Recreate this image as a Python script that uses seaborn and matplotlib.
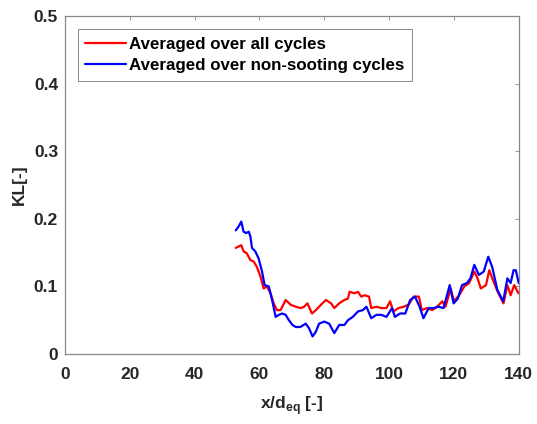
import numpy as np
import pandas as pd
import seaborn as sns
import matplotlib
matplotlib.use("Agg")
import matplotlib.pyplot as plt

x_all = [52.7, 53.5, 54.4, 55.1, 56.1, 57.2, 58.2, 59.2, 60.3, 61.3, 62.3, 63.4, 64.4, 65.4, 66.5, 68.1,
         69.6, 71.2, 72.7, 73.8, 74.8, 76.2, 77.4, 79.0, 80.5, 82.1, 83.1, 84.6, 86.2, 87.3, 87.8, 89.3,
         90.4, 91.4, 92.4, 93.8, 94.5, 96.1, 97.6, 99.2, 100.3, 101.3, 102.9, 104.5, 106.0, 107.6, 109.2,
         110.1, 111.7, 113.3, 114.8, 116.4, 117.4, 119.0, 120.0, 121.6, 123.2, 124.7, 126.3, 127.3, 128.3,
         129.9, 130.9, 132.0, 133.5, 135.3, 136.5, 137.5, 138.6, 139.9]
kl_all = [0.157, 0.159, 0.161, 0.152, 0.149, 0.139, 0.137, 0.129, 0.115, 0.097, 0.100, 0.090, 0.075, 0.065,
          0.065, 0.080, 0.073, 0.070, 0.068, 0.070, 0.075, 0.060, 0.065, 0.073, 0.080, 0.075, 0.068, 0.075,
          0.080, 0.082, 0.092, 0.090, 0.092, 0.085, 0.087, 0.085, 0.068, 0.070, 0.068, 0.068, 0.078, 0.063,
          0.068, 0.070, 0.073, 0.085, 0.085, 0.065, 0.068, 0.065, 0.070, 0.078, 0.070, 0.097, 0.078, 0.087,
          0.100, 0.105, 0.122, 0.112, 0.097, 0.102, 0.124, 0.110, 0.092, 0.075, 0.102, 0.087, 0.102, 0.090]

x_ns = [52.7, 53.6, 54.4, 55.1, 55.9, 56.7, 57.2, 57.7, 58.7, 59.7, 60.8, 61.6, 62.9, 63.9, 65.0, 66.0,
        67.0, 68.1, 69.1, 70.2, 71.2, 72.6, 74.3, 75.3, 76.4, 77.4, 78.4, 80.0, 81.5, 83.1, 84.6, 86.2,
        87.3, 88.8, 90.4, 91.9, 93.0, 94.5, 96.1, 97.6, 99.2, 100.9, 101.8, 103.4, 105.0, 106.5, 108.0,
        109.4, 110.6, 112.2, 113.7, 115.2, 116.8, 118.7, 119.9, 121.2, 122.5, 124.0, 125.1, 126.3, 127.7,
        129.2, 130.6, 131.8, 133.4, 135.2, 136.5, 137.5, 138.4, 139.1, 140.0]
kl_ns = [0.183, 0.189, 0.196, 0.181, 0.179, 0.181, 0.174, 0.157, 0.152, 0.142, 0.122, 0.102, 0.100, 0.080,
         0.055, 0.058, 0.060, 0.058, 0.050, 0.043, 0.040, 0.040, 0.045, 0.038, 0.026, 0.033, 0.045, 0.048,
         0.045, 0.031, 0.043, 0.043, 0.050, 0.055, 0.063, 0.065, 0.070, 0.053, 0.058, 0.058, 0.055, 0.068,
         0.055, 0.060, 0.060, 0.080, 0.085, 0.070, 0.053, 0.068, 0.068, 0.070, 0.068, 0.102, 0.075, 0.082,
         0.102, 0.105, 0.112, 0.132, 0.117, 0.122, 0.144, 0.129, 0.095, 0.078, 0.112, 0.105, 0.124, 0.124, 0.105]

labels = ["Averaged over all cycles", "Averaged over non-sooting cycles"]
colors = ["#ff0000", "#0000ff"]
xticks = [0, 20, 40, 60, 80, 100, 120, 140]
yticks = [0, 0.1, 0.2, 0.3, 0.4, 0.5]

sns.set_style("white")
plt.rcParams['font.family'] = ['Liberation Sans', 'DejaVu Sans']
plt.rcParams['mathtext.fontset'] = 'custom'
plt.rcParams['mathtext.bf'] = 'Liberation Sans:bold'
plt.rcParams['mathtext.rm'] = 'Liberation Sans'

df = pd.concat([
    pd.DataFrame({"x": x_all, "KL": kl_all, "series": labels[0]}),
    pd.DataFrame({"x": x_ns, "KL": kl_ns, "series": labels[1]}),
])

fig = plt.figure(figsize=(5.37, 4.24), dpi=100)
ax = fig.add_axes([0.121, 0.165, 0.845, 0.797])
sns.lineplot(data=df, x="x", y="KL", hue="series", palette=dict(zip(labels, colors)),
             linewidth=1.6, ax=ax, sort=False, estimator=None)

ax.set_xlim(0, 140)
ax.set_ylim(0, 0.5)
ax.set_xticks(xticks)
ax.set_yticks(yticks)
ax.set_xticklabels([str(t) for t in xticks])
ax.set_yticklabels([f"{t:g}" for t in yticks])
for lab in ax.get_xticklabels() + ax.get_yticklabels():
    lab.set_fontweight("bold")
    lab.set_fontsize(12.5)
    lab.set_color("#262626")
ax.tick_params(direction="in", length=3, top=True, right=True, color="#888888", width=0.6)
ax.tick_params(axis="x", pad=9)
ax.tick_params(axis="y", pad=5)
for s in ax.spines.values():
    s.set_color("#888888")
    s.set_linewidth(0.9)
ax.set_xlabel("x/d$_{\\mathbf{eq}}$ [-]", fontsize=12.5, fontweight="bold", color="#262626", labelpad=9)
ax.set_ylabel("KL[-]", fontsize=12.5, fontweight="bold", color="#262626", labelpad=5)

leg = ax.legend(loc="upper left", bbox_to_anchor=(0.028, 0.962), fontsize=12.2, frameon=True,
                fancybox=False, edgecolor="#555555", handlelength=2.4, handletextpad=0.2,
                borderpad=0.45, labelspacing=0.4, borderaxespad=0)
leg.get_frame().set_linewidth(0.6)
for t in leg.get_texts():
    t.set_fontweight("bold")
    t.set_color("black")

fig.savefig("out.png", dpi=100)
